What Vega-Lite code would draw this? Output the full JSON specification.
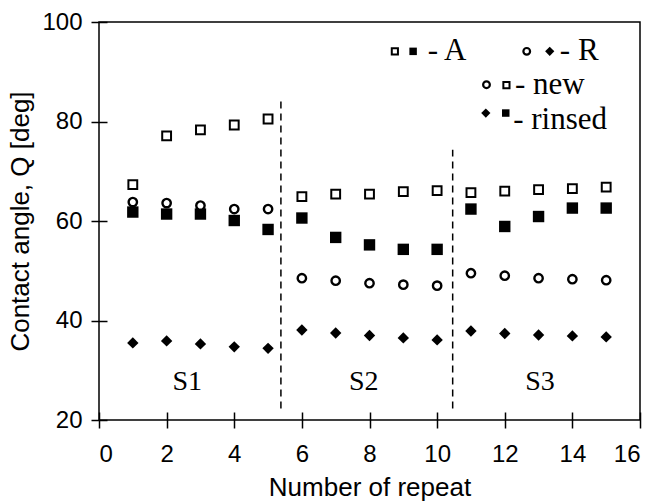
{
  "$schema": "https://vega.github.io/schema/vega-lite/v6.json",
  "width": 541,
  "height": 398,
  "autosize": {"type": "none"},
  "padding": {"left": 99, "top": 22, "right": 16, "bottom": 83},
  "background": "white",
  "config": {
    "view": {"stroke": "black", "strokeWidth": 1.5},
    "axis": {
      "offset": -8,
      "tickSize": 16,
      "tickWidth": 1.5,
      "tickColor": "black",
      "domain": false,
      "grid": false,
      "labelFont": "Liberation Sans",
      "labelFontSize": 24,
      "labelColor": "black",
      "titleFont": "Liberation Sans",
      "titleFontSize": 26,
      "titleFontWeight": "normal",
      "titleColor": "black"
    }
  },
  "datasets": {
    "points": [
      {"repeat": 1, "series": "A rinsed", "angle": 61.8},
      {"repeat": 2, "series": "A rinsed", "angle": 61.4},
      {"repeat": 3, "series": "A rinsed", "angle": 61.4},
      {"repeat": 4, "series": "A rinsed", "angle": 60.1},
      {"repeat": 5, "series": "A rinsed", "angle": 58.3},
      {"repeat": 6, "series": "A rinsed", "angle": 60.6},
      {"repeat": 7, "series": "A rinsed", "angle": 56.7},
      {"repeat": 8, "series": "A rinsed", "angle": 55.2},
      {"repeat": 9, "series": "A rinsed", "angle": 54.3},
      {"repeat": 10, "series": "A rinsed", "angle": 54.3},
      {"repeat": 11, "series": "A rinsed", "angle": 62.4},
      {"repeat": 12, "series": "A rinsed", "angle": 58.9},
      {"repeat": 13, "series": "A rinsed", "angle": 60.9},
      {"repeat": 14, "series": "A rinsed", "angle": 62.6},
      {"repeat": 15, "series": "A rinsed", "angle": 62.6},
      {"repeat": 1, "series": "R rinsed", "angle": 35.5},
      {"repeat": 2, "series": "R rinsed", "angle": 35.9},
      {"repeat": 3, "series": "R rinsed", "angle": 35.3},
      {"repeat": 4, "series": "R rinsed", "angle": 34.7},
      {"repeat": 5, "series": "R rinsed", "angle": 34.4},
      {"repeat": 6, "series": "R rinsed", "angle": 38.1},
      {"repeat": 7, "series": "R rinsed", "angle": 37.5},
      {"repeat": 8, "series": "R rinsed", "angle": 37.0},
      {"repeat": 9, "series": "R rinsed", "angle": 36.5},
      {"repeat": 10, "series": "R rinsed", "angle": 36.1},
      {"repeat": 11, "series": "R rinsed", "angle": 37.9},
      {"repeat": 12, "series": "R rinsed", "angle": 37.4},
      {"repeat": 13, "series": "R rinsed", "angle": 37.1},
      {"repeat": 14, "series": "R rinsed", "angle": 36.9},
      {"repeat": 15, "series": "R rinsed", "angle": 36.7},
      {"repeat": 1, "series": "A new", "angle": 67.3},
      {"repeat": 2, "series": "A new", "angle": 77.1},
      {"repeat": 3, "series": "A new", "angle": 78.3},
      {"repeat": 4, "series": "A new", "angle": 79.3},
      {"repeat": 5, "series": "A new", "angle": 80.5},
      {"repeat": 6, "series": "A new", "angle": 64.9},
      {"repeat": 7, "series": "A new", "angle": 65.4},
      {"repeat": 8, "series": "A new", "angle": 65.4},
      {"repeat": 9, "series": "A new", "angle": 65.9},
      {"repeat": 10, "series": "A new", "angle": 66.1},
      {"repeat": 11, "series": "A new", "angle": 65.7},
      {"repeat": 12, "series": "A new", "angle": 66.0},
      {"repeat": 13, "series": "A new", "angle": 66.3},
      {"repeat": 14, "series": "A new", "angle": 66.5},
      {"repeat": 15, "series": "A new", "angle": 66.8},
      {"repeat": 1, "series": "R new", "angle": 63.8},
      {"repeat": 2, "series": "R new", "angle": 63.6},
      {"repeat": 3, "series": "R new", "angle": 63.1},
      {"repeat": 4, "series": "R new", "angle": 62.4},
      {"repeat": 5, "series": "R new", "angle": 62.4},
      {"repeat": 6, "series": "R new", "angle": 48.5},
      {"repeat": 7, "series": "R new", "angle": 48.0},
      {"repeat": 8, "series": "R new", "angle": 47.5},
      {"repeat": 9, "series": "R new", "angle": 47.2},
      {"repeat": 10, "series": "R new", "angle": 47.0},
      {"repeat": 11, "series": "R new", "angle": 49.5},
      {"repeat": 12, "series": "R new", "angle": 49.0},
      {"repeat": 13, "series": "R new", "angle": 48.5},
      {"repeat": 14, "series": "R new", "angle": 48.3},
      {"repeat": 15, "series": "R new", "angle": 48.1}
    ],
    "dividers": [
      {"repeat": 5.38, "low": 22.3, "high": 84},
      {"repeat": 10.46, "low": 22.3, "high": 74.3}
    ],
    "sections": [
      {"repeat": 2.61, "angle": 26.0, "label": "S1"},
      {"repeat": 7.83, "angle": 26.0, "label": "S2"},
      {"repeat": 13.04, "angle": 26.0, "label": "S3"}
    ],
    "legendSymbols": [
      {"repeat": 8.75, "angle": 94.1, "series": "A new"},
      {"repeat": 9.29, "angle": 94.1, "series": "A rinsed"},
      {"repeat": 12.65, "angle": 94.1, "series": "R new"},
      {"repeat": 13.33, "angle": 94.1, "series": "R rinsed"},
      {"repeat": 11.46, "angle": 87.4, "series": "R new"},
      {"repeat": 12.05, "angle": 87.3, "series": "A new"},
      {"repeat": 11.44, "angle": 81.7, "series": "R rinsed"},
      {"repeat": 12.03, "angle": 81.7, "series": "A rinsed"}
    ],
    "legendText": [
      {"repeat": 9.72, "angle": 92.4, "label": "- A"},
      {"repeat": 13.63, "angle": 92.4, "label": "- R"},
      {"repeat": 12.3, "angle": 85.6, "label": "- new"},
      {"repeat": 12.25, "angle": 78.5, "label": "- rinsed"}
    ]
  },
  "layer": [
    {
      "data": {"name": "dividers"},
      "mark": {"type": "rule", "color": "black", "strokeWidth": 1.5, "strokeDash": [7, 5]},
      "encoding": {
        "x": {"field": "repeat", "type": "quantitative", "scale": {"domain": [0, 16], "nice": false}, "axis": {"values": [0, 2, 4, 6, 8, 10, 12, 14, 16], "title": "Number of repeat", "labelPadding": 14, "titlePadding": 8}},
        "y": {"field": "low", "type": "quantitative", "scale": {"domain": [20, 100], "nice": false}, "axis": {"values": [20, 40, 60, 80, 100], "title": "Contact angle, Q [deg]", "labelPadding": 9, "titlePadding": 8}},
        "y2": {"field": "high"}
      }
    },
    {
      "data": {"name": "points"},
      "transform": [{"filter": "datum.series === 'A rinsed'"}],
      "mark": {"type": "point", "shape": "square", "filled": true, "fill": "black", "strokeWidth": 0, "size": 130, "opacity": 1},
      "encoding": {
        "x": {"field": "repeat", "type": "quantitative"},
        "y": {"field": "angle", "type": "quantitative"}
      }
    },
    {
      "data": {"name": "points"},
      "transform": [{"filter": "datum.series === 'R rinsed'"}],
      "mark": {"type": "point", "shape": "diamond", "filled": true, "fill": "black", "strokeWidth": 0, "size": 130, "opacity": 1},
      "encoding": {
        "x": {"field": "repeat", "type": "quantitative"},
        "y": {"field": "angle", "type": "quantitative"}
      }
    },
    {
      "data": {"name": "points"},
      "transform": [{"filter": "datum.series === 'A new'"}],
      "mark": {"type": "point", "shape": "square", "filled": false, "fill": "white", "fillOpacity": 1, "stroke": "black", "strokeWidth": 2, "size": 78, "opacity": 1},
      "encoding": {
        "x": {"field": "repeat", "type": "quantitative"},
        "y": {"field": "angle", "type": "quantitative"}
      }
    },
    {
      "data": {"name": "points"},
      "transform": [{"filter": "datum.series === 'R new'"}],
      "mark": {"type": "point", "shape": "circle", "filled": false, "fill": "white", "fillOpacity": 1, "stroke": "black", "strokeWidth": 2.4, "size": 70, "opacity": 1},
      "encoding": {
        "x": {"field": "repeat", "type": "quantitative"},
        "y": {"field": "angle", "type": "quantitative"}
      }
    },
    {
      "data": {"name": "legendSymbols"},
      "transform": [{"filter": "datum.series === 'A rinsed'"}],
      "mark": {"type": "point", "shape": "square", "filled": true, "fill": "black", "strokeWidth": 0, "size": 56, "opacity": 1},
      "encoding": {
        "x": {"field": "repeat", "type": "quantitative"},
        "y": {"field": "angle", "type": "quantitative"}
      }
    },
    {
      "data": {"name": "legendSymbols"},
      "transform": [{"filter": "datum.series === 'R rinsed'"}],
      "mark": {"type": "point", "shape": "diamond", "filled": true, "fill": "black", "strokeWidth": 0, "size": 85, "opacity": 1},
      "encoding": {
        "x": {"field": "repeat", "type": "quantitative"},
        "y": {"field": "angle", "type": "quantitative"}
      }
    },
    {
      "data": {"name": "legendSymbols"},
      "transform": [{"filter": "datum.series === 'A new'"}],
      "mark": {"type": "point", "shape": "square", "filled": false, "fill": "white", "fillOpacity": 1, "stroke": "black", "strokeWidth": 2, "size": 38, "opacity": 1},
      "encoding": {
        "x": {"field": "repeat", "type": "quantitative"},
        "y": {"field": "angle", "type": "quantitative"}
      }
    },
    {
      "data": {"name": "legendSymbols"},
      "transform": [{"filter": "datum.series === 'R new'"}],
      "mark": {"type": "point", "shape": "circle", "filled": false, "fill": "white", "fillOpacity": 1, "stroke": "black", "strokeWidth": 2.2, "size": 45, "opacity": 1},
      "encoding": {
        "x": {"field": "repeat", "type": "quantitative"},
        "y": {"field": "angle", "type": "quantitative"}
      }
    },
    {
      "data": {"name": "sections"},
      "mark": {"type": "text", "font": "Liberation Serif", "fontSize": 28, "align": "center", "baseline": "alphabetic", "color": "black"},
      "encoding": {
        "x": {"field": "repeat", "type": "quantitative"},
        "y": {"field": "angle", "type": "quantitative"},
        "text": {"field": "label"}
      }
    },
    {
      "data": {"name": "legendText"},
      "mark": {"type": "text", "font": "Liberation Serif", "fontSize": 31, "align": "left", "baseline": "alphabetic", "color": "black"},
      "encoding": {
        "x": {"field": "repeat", "type": "quantitative"},
        "y": {"field": "angle", "type": "quantitative"},
        "text": {"field": "label"}
      }
    }
  ]
}
